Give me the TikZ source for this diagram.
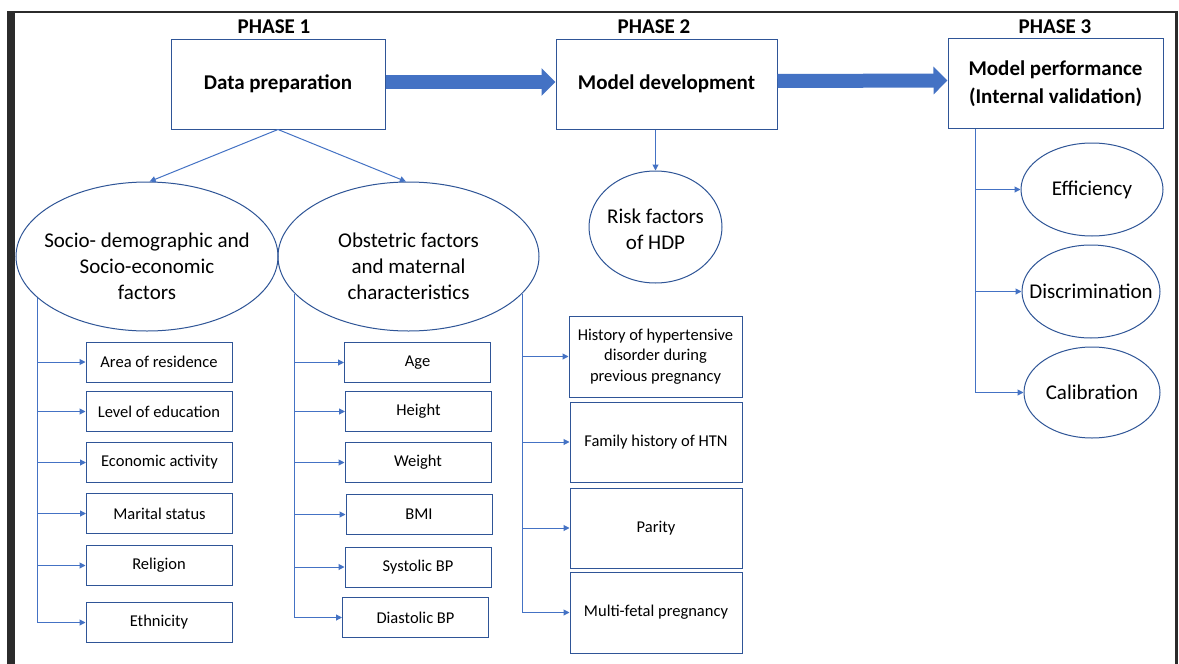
\documentclass[tikz,border=0pt]{standalone}
\usepackage{fontspec}
\setmainfont{Carlito}
\usetikzlibrary{shapes.geometric,arrows.meta}
\definecolor{linkblue}{HTML}{4472C4}
\definecolor{edgeblue}{HTML}{2F5597}
\definecolor{framegray}{HTML}{2B2B2B}
\tikzset{
  phase/.style={font=\bfseries\fontsize{21}{26}\selectfont},
  mainbox/.style={draw=edgeblue, line width=1pt, minimum height=90pt, inner sep=0pt, align=center, font=\bfseries\fontsize{21}{28}\selectfont},
  factor/.style={draw=edgeblue, line width=1pt, minimum width=146pt, minimum height=40pt, inner sep=0pt, align=center, font=\fontsize{16.5}{20.5}\selectfont},
  oval/.style={draw=edgeblue, line width=1pt, ellipse, inner sep=0pt},
  ovaltext/.style={align=center, font=\fontsize{21}{26}\selectfont},
  link/.style={draw=linkblue, line width=1pt, -{Triangle[width=6pt,length=6pt]}},
  bus/.style={draw=linkblue, line width=1pt},
  bigarrow/.style={draw=linkblue, line width=14pt, -{Triangle[width=27pt,length=14pt]}}
}
\begin{document}
\begin{tikzpicture}[x=1pt,y=-1pt]
%page and the dark frame round it
\useasboundingbox[fill=white] (0,0) rectangle (1179,664);
\fill[framegray] (7,11) rectangle (15,664);
\fill[framegray] (7,11) rectangle (1178,13);
\fill[framegray] (1175,11) rectangle (1178,664);
% the three phases, with their headings
\node[phase](p1) at (274,27){PHASE 1};
\node[phase](p2) at (654,27){PHASE 2};
\node[phase](p3) at (1055,27){PHASE 3};
\node[mainbox, minimum width=214pt](dp) at (278,84){Data preparation};
\node[mainbox, minimum width=221pt](md) at (666.5,84){Model development};
\node[mainbox, minimum width=215pt](mp) at (1055.5,83.5){\raisebox{-3pt}{Model performance}\\\raisebox{-3pt}{(Internal validation)}};
\draw[bigarrow] ([yshift=2pt]dp.east) -- ([yshift=2pt]md.west);
\draw[bigarrow] ([yshift=3pt]md.east) -- ([yshift=3pt]mp.west);
% phase 1: two groups of factors
\node[oval, minimum width=262pt, minimum height=149pt,
      label={[ovaltext, yshift=-10pt]center:{Socio- demographic and\\Socio-economic\\factors}}](sd) at (147,256.5){};
\node[oval, minimum width=261pt, minimum height=149pt,
      label={[ovaltext, yshift=-10pt]center:{Obstetric factors\\and maternal\\characteristics}}](ob) at (408.5,256.5){};
\draw[link] (dp.south) -- (sd.88);
\draw[link] (dp.south) -- (ob.92);
% socio-demographic factors
\node[factor](area) at (159,362){Area of residence};
\node[factor](edu) at (159,411.5){Level of education};
\node[factor](eco) at (159.5,462.5){Economic activity};
\node[factor](mar) at (159.5,513.5){Marital status};
\node[factor](rel) at (159,565.5){Religion};
\node[factor](eth) at (159,622.5){Ethnicity};
\draw[link] (sd.201) |- (eth.west);
\foreach \b in {area,edu,eco,mar,rel}
  \draw[link] (sd.201 |- \b.west) -- (\b.west);
% maternal characteristics
\node[factor](age) at (417.5,362.5){Age};
\node[factor](hgt) at (418.5,411.5){Height};
\node[factor](wgt) at (418,462.5){Weight};
\node[factor](bmi) at (419,514.5){BMI};
\node[factor](sbp) at (418,567){Systolic BP};
\node[factor](dbp) at (415.5,617.5){Diastolic BP};
\draw[link] (ob.198) |- (dbp.west);
\foreach \b in {age,hgt,wgt,bmi,sbp}
  \draw[link] (ob.198 |- \b.west) -- (\b.west);
% obstetric factors
\node[factor, minimum width=173pt, minimum height=81pt](hist) at (655.5,356.5){History of hypertensive\\disorder during\\previous pregnancy};
\node[factor, minimum width=172pt, minimum height=80pt](fam) at (656,442){Family history of HTN};
\node[factor, minimum width=172pt, minimum height=80pt](par) at (656,528){Parity};
\node[factor, minimum width=172pt, minimum height=81pt](mfp) at (656,612.5){Multi-fetal pregnancy};
\draw[link] (ob.342) |- (mfp.west);
\foreach \b in {hist,fam,par}
  \draw[link] (ob.342 |- \b.west) -- (\b.west);
% phase 2
\node[oval, minimum width=133pt, minimum height=112pt,
      label={[ovaltext, yshift=-2pt]center:{Risk factors\\of HDP}}](rf) at (655.5,227){};
\draw[link] (rf.north |- md.south) -- (rf.north);
% phase 3
\node[oval, minimum width=142pt, minimum height=93pt, label={[ovaltext]center:Efficiency}](eff) at (1092,189.5){};
\node[oval, minimum width=138pt, minimum height=93pt, label={[ovaltext]center:Discrimination}](dis) at (1091,291.5){};
\node[oval, minimum width=136pt, minimum height=91pt, label={[ovaltext]center:Calibration}](cal) at (1092,392.5){};
\coordinate(pbus) at ([xshift=28pt]mp.south west);
\draw[link] (pbus) |- (cal.west);
\foreach \b in {eff,dis}
  \draw[link] (pbus |- \b.west) -- (\b.west);
\end{tikzpicture}
\end{document}
